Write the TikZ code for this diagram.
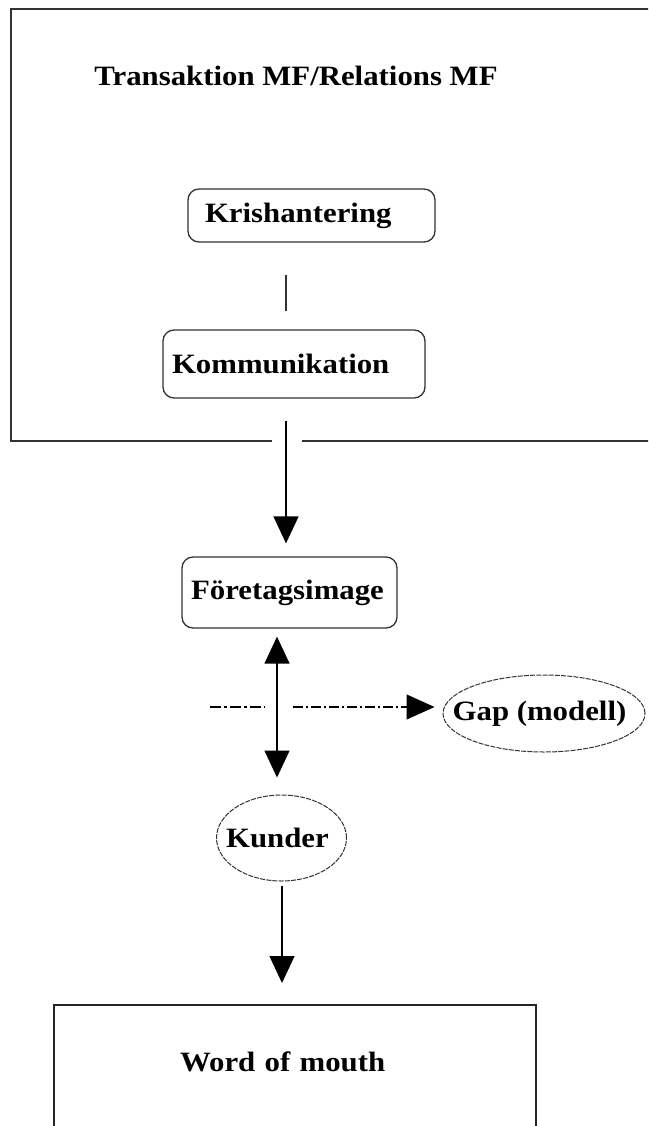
\documentclass[tikz,border=0pt]{standalone}
\usepackage{fontspec}
\setmainfont{Liberation Serif}[FakeStretch=1.1]
\usetikzlibrary{arrows.meta,shapes.geometric,calc}
\tikzset{
  lbl/.style={font=\fontsize{28}{32}\selectfont\bfseries},
  rbox/.style={lbl,draw=black!80,line width=1.3pt,rounded corners=11pt},
  oval/.style={lbl,ellipse,draw=black!80,line width=1pt,dash pattern=on 5pt off 1.2pt,inner sep=0pt},
  frame/.style={draw=black!80,line width=1.6pt},
  flow/.style={line width=1.4pt,-{Triangle[length=27pt,width=25pt]}},
  both/.style={line width=1.4pt,{Triangle[length=27pt,width=25pt]}-{Triangle[length=27pt,width=25pt]}},
  link/.style={draw=black!80,line width=1.3pt},
}
\begin{document}
\begin{tikzpicture}[x=1pt,y=-1pt]
\useasboundingbox (0,0) rectangle (648,1126);
\clip (0,0) rectangle (648,1126);
\fill[white] (0,0) rectangle (648,1126);

% enclosing frame, open where the arrow leaves it
\coordinate (fgapL) at (272,441);
\coordinate (fgapR) at (302,441);
\draw[frame] (fgapL) -- (11,441) -- (11,9) -- (652,9) -- (652,441) -- (fgapR);

\node[lbl,anchor=base] (title) at (296,86) {Transaktion MF/Relations MF};

\node[rbox,minimum width=247pt,minimum height=53pt,text width=213pt,inner xsep=17pt,inner ysep=0pt,align=left] (kris) at (311.5,215.5) {Krishantering};
\node[rbox,minimum width=262pt,minimum height=68pt,text width=244pt,inner xsep=9pt,inner ysep=0pt,align=left] (komm) at (294,364) {Kommunikation};
\node[rbox,minimum width=215pt,minimum height=71pt,inner sep=0pt] (foretag) at (289.5,592.5) {\hspace{-4pt}Företagsimage};
\node[oval,minimum width=130pt,minimum height=86pt] (kunder) at (281.5,838) {\makebox[0pt][c]{Kunder\hspace{8pt}}};
\node[oval,minimum width=202pt,minimum height=77pt] (gap) at (544,713.5) {\makebox[0pt][c]{Gap (modell)\hspace{9pt}}};
\node[lbl,draw=black!85,line width=1.6pt,anchor=north,minimum width=482pt,inner xsep=126pt,text width=230pt,align=left,inner ysep=0pt,text height=67pt,text depth=60pt] (wom) at (295,1004) {Word of mouth};

% connectors
\draw[link] ($(kris.south)+(-25.5,32)$) -- ($(komm.north)+(-8,-18)$);
\draw[flow] ($(komm.south)+(-8,22)$) -- ($(foretag.north)+(-3.5,-13)$);
\draw[both] ($(foretag.south)+(-12.5,8)$) -- ($(kunder.north)+(-4.5,-17)$);
\draw[flow] ($(kunder.south)+(0.5,4)$) -- ($(wom.north)+(-13,-21)$);

% dash-dotted link towards the gap model, broken around the double arrow
\coordinate (dashA) at (210,707);
\coordinate (dashB) at (265,707);
\coordinate (dashC) at (293,707);
\draw[line width=2.6pt,dash pattern=on 11pt off 3pt on 3pt off 3pt] (dashA) -- (dashB);
\draw[line width=1.2pt,dash pattern=on 10pt off 3pt on 2pt off 3pt,-{Triangle[length=28pt,width=25pt]}] (dashC) -- ($(gap.west)+(-8,-6.5)$);
\end{tikzpicture}
\end{document}
